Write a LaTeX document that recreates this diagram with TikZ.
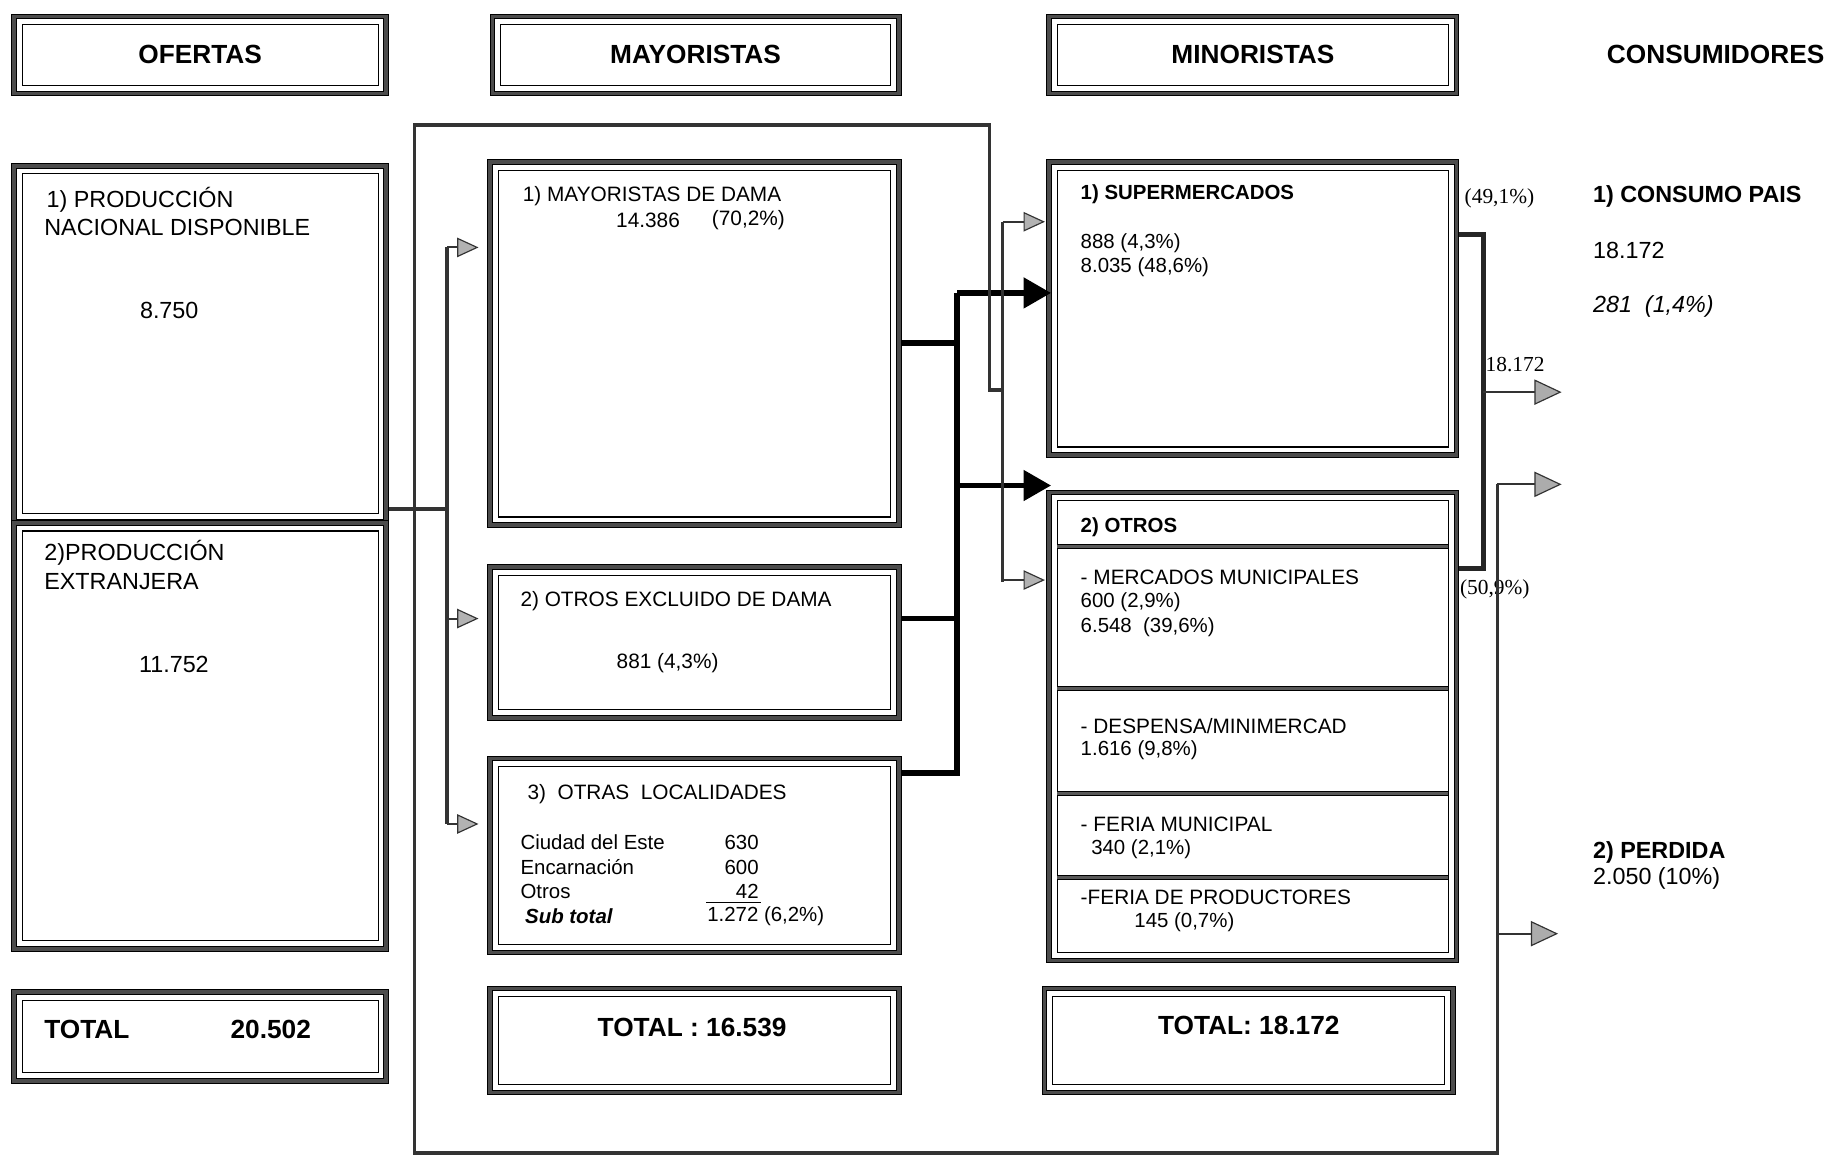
\documentclass[tikz,border=0pt]{standalone}
\usepackage{fontspec}
\setmainfont{Liberation Sans}
\newfontfamily\serifF{Liberation Serif}
\usetikzlibrary{arrows.meta,fit,calc}
\newcommand\fhead{\fontsize{13.5}{16}\selectfont\bfseries}
\newcommand\fbig{\fontsize{12}{14}\selectfont}
\newcommand\fmid{\fontsize{10.7}{13}\selectfont}
\newcommand\fmidb{\fontsize{10.5}{13}\selectfont\bfseries}
\newcommand\fsub{\fontsize{10.5}{12.6}\selectfont}
\newcommand\fcons{\fontsize{12}{14}\selectfont\bfseries}
\newcommand\flab{\serifF\fontsize{11}{13}\selectfont}
\newcommand\mkframe[5]{%
  \coordinate (#1-a) at (#2,#3);
  \coordinate (#1-b) at (#4,#5);
  \node[fit=(#1-a)(#1-b), inner sep=0pt, outer sep=0pt] (#1) {};
  \draw[frband] ([shift={(2,2)}]#1.north west) rectangle ([shift={(-2,-2)}]#1.south east);
  \draw[frline] (#1.north west) rectangle (#1.south east);
  \draw[frline] ([shift={(4,4)}]#1.north west) rectangle ([shift={(-4,-4)}]#1.south east);
  \draw[frinner] ([shift={(9,9)}]#1.north west) rectangle ([shift={(-9,-9)}]#1.south east);
}
\newcommand\mksep[1]{%
  \draw[line width=1.6pt, draw=black!65] (906,#1) -- (1241,#1);
  \draw[frline] (906,{#1-1.8}) -- (1241,{#1-1.8});
  \draw[frline] (906,{#1+1.8}) -- (1241,{#1+1.8});
}
\begin{document}
\begin{tikzpicture}[x=0.6pt,y=-0.6pt,
  frband/.style={line width=2.4pt, draw=black!70},
  frline/.style={line width=0.5pt, draw=black},
  frinner/.style={line width=0.6pt, draw=black},
  txt/.style={inner sep=0pt, outer sep=0pt},
  lt/.style={txt, anchor=west},
  rt/.style={txt, anchor=east},
  conn/.style={line width=1.8pt, draw=black!80},
  sconn/.style={line width=1pt, draw=black!80},
  bconn/.style={line width=3pt, draw=black},
  rconn/.style={line width=2.4pt, draw=black!85},
  sarr/.style={-{Triangle[length=11pt,width=10pt,fill=gray!60,line width=0.6pt]}},
  barr/.style={-{Triangle[length=14pt,width=16pt,fill=black,line width=0.6pt]}},
  marr/.style={-{Triangle[length=14pt,width=13pt,fill=gray!65,line width=0.6pt]}},
]
\fill[white] (0,0) rectangle (1568,992);
\useasboundingbox (0,0) rectangle (1568,992);

% ---- headers
\mkframe{hO}{10}{12}{333}{82}
\mkframe{hM}{420}{12}{772}{82}
\mkframe{hN}{897}{12}{1250}{82}
\node[txt,font=\fhead] (tO) at (hO) {OFERTAS};
\node[txt,font=\fhead] (tM) at (hM) {MAYORISTAS};
\node[txt,font=\fhead] (tN) at (hN) {MINORISTAS};
\node[txt,font=\fhead] (tC) at (1470,47) {CONSUMIDORES};

% ---- ofertas
\mkframe{oA}{10}{140}{333}{449}
\mkframe{oB}{10}{446}{333}{815}
\node[lt,font=\fbig] (oA1) at (40,171) {1) PRODUCCIÓN};
\node[lt,font=\fbig] (oA2) at (38,195) {NACIONAL DISPONIBLE};
\node[txt,font=\fbig] (oA3) at (145,266) {8.750};
\node[lt,font=\fbig] (oB1) at (38,474) {2)PRODUCCIÓN};
\node[lt,font=\fbig] (oB2) at (38,498) {EXTRANJERA};
\node[txt,font=\fbig] (oB3) at (149,569) {11.752};
\mkframe{oT}{10}{848}{333}{928}
\node[lt,font=\fhead] (oT1) at (38,882) {TOTAL};
\node[txt,font=\fhead] (oT2) at (232,882) {20.502};

% ---- mayoristas
\mkframe{mA}{418}{137}{772}{452}
\node[lt,font=\fmid] (mA1) at (448,168) {1) MAYORISTAS DE DAMA};
\node[lt,font=\fmid] (mA2) at (528,189) {14.386};
\node[lt,font=\fmid] (mA3) at (610,189) {(70,2\%)};
\mkframe{mB}{418}{484}{772}{617}
\node[lt,font=\fmid] (mB1) at (446,515) {2) OTROS EXCLUIDO DE DAMA};
\node[txt,font=\fmid] (mB2) at (572,568) {881 (4,3\%)};
\mkframe{mC}{418}{648}{772}{818}
\node[lt,font=\fmid] (mC1) at (452,680) {3)\ \ OTRAS\ \ LOCALIDADES};
\node[lt,font=\fsub] (mC2) at (446,722) {Ciudad del Este};
\node[rt,font=\fsub] (mC3) at (650,722) {630};
\node[lt,font=\fsub] (mC4) at (446,743) {Encarnación};
\node[rt,font=\fsub] (mC5) at (650,743) {600};
\node[lt,font=\fsub] (mC6) at (446,764) {Otros};
\node[rt,font=\fsub] (mC7) at (650,764) {42};
\draw[line width=0.6pt] (605,773) -- (652,773);
\node[lt,font=\fsub\bfseries\itshape] (mC8) at (450,785) {Sub total};
\node[lt,font=\fsub] (mC9) at (606,785) {1.272 (6,2\%)};
\mkframe{mT}{418}{845}{772}{938}
\node[txt,font=\fhead] (mT1) at (593,880) {TOTAL : 16.539};

% ---- minoristas
\mkframe{nA}{897}{137}{1250}{392}
\node[lt,font=\fmidb] (nA1) at (926,166) {1) SUPERMERCADOS};
\node[lt,font=\fsub] (nA2) at (926,208) {888 (4,3\%)};
\node[lt,font=\fsub] (nA3) at (926,229) {8.035 (48,6\%)};
\mkframe{nB}{897}{420}{1250}{825}
\mksep{468}
\mksep{590}
\mksep{680}
\mksep{752}
\node[lt,font=\fmidb] (nB1) at (926,452) {2) OTROS};
\node[lt,font=\fmid] (nB2) at (926,495) {- MERCADOS MUNICIPALES};
\node[lt,font=\fsub] (nB3) at (926,516) {600 (2,9\%)};
\node[lt,font=\fsub] (nB4) at (926,537) {6.548\ \ (39,6\%)};
\node[lt,font=\fmid] (nB5) at (926,622) {- DESPENSA/MINIMERCAD};
\node[lt,font=\fsub] (nB6) at (926,643) {1.616 (9,8\%)};
\node[lt,font=\fmid] (nB7) at (926,706) {- FERIA MUNICIPAL};
\node[lt,font=\fsub] (nB8) at (935,728) {340 (2,1\%)};
\node[lt,font=\fmid] (nB9) at (926,769) {-FERIA DE PRODUCTORES};
\node[lt,font=\fsub] (nB10) at (972,790) {145 (0,7\%)};
\mkframe{nT}{893}{845}{1247}{938}
\node[txt,font=\fhead] (nT1) at (1070,879) {TOTAL: 18.172};

% ---- consumidores
\node[lt,font=\fcons] (c1) at (1365,168) {1) CONSUMO PAIS};
\node[lt,font=\fbig] (c2) at (1365,215) {18.172};
\node[lt,font=\fbig\itshape] (c3) at (1365,263) {281\ \ (1,4\%)};
\node[lt,font=\fcons] (c4) at (1365,730) {2) PERDIDA};
\node[lt,font=\fbig] (c5) at (1365,753) {2.050 (10\%)};

% ---- labels on right connector
\node[lt,font=\flab] (l1) at (1255,170) {(49,1\%)};
\node[lt,font=\flab] (l2) at (1273,312) {18.172};
\node[lt,font=\flab] (l3) at (1251,505) {(50,9\%)};

% ---- ofertas -> mayoristas
\coordinate (dj) at (383,436);
\coordinate (dt) at (383,212);
\coordinate (dm) at (383,530);
\coordinate (db) at (383,706);
\draw[conn] (oA.east |- dj) -- (dj);
\draw[conn] (dt) -- (db);
\draw[sconn,sarr,shorten >=4.8pt] (dt) -- (dt -| mA.west);
\draw[sconn,sarr,shorten >=4.8pt] (dm) -- (dm -| mB.west);
\draw[sconn,sarr,shorten >=4.8pt] (db) -- (db -| mC.west);

% ---- mayoristas -> minoristas
\coordinate (k1) at (820,294);
\coordinate (k2) at (820,530);
\coordinate (k3) at (820,662);
\coordinate (kt) at (820,251);
\coordinate (kb) at (820,416);
\draw[bconn] (mA.east |- k1) -- (k1);
\draw[bconn] (mB.east |- k2) -- (k2);
\draw[bconn] (mC.east |- k3) -- (k3) -- (kt);
\draw[bconn,barr,shorten >=-2pt] (kt) -- (kt -| nA.west);
\draw[bconn,barr,shorten >=-2pt] (kb) -- (kb -| nB.west);

% ---- ofertas direct loop
\coordinate (g0) at (355,436);
\coordinate (g1) at (355,107);
\coordinate (g2) at (848,107);
\coordinate (g3) at (848,334);
\coordinate (g4) at (859,334);
\coordinate (g5) at (355,988);
\coordinate (g6) at (1283,988);
\coordinate (g7) at (1283,415);
\coordinate (s1) at (859,190);
\coordinate (s2) at (859,499);
\coordinate (s3) at (859,497);
\coordinate (q1) at (1338,415);
\coordinate (q2) at (1283,800);
\coordinate (q3) at (1335,800);
\draw[conn] (g0) -- (g1) -- (g2) -- (g3) -- (g4);
\draw[conn] (g0) -- (g5) -- (g6) -- (g7);
\draw[conn] (s1) -- (s2);
\draw[sconn,sarr,shorten >=1pt] (s1) -- (s1 -| nA.west);
\draw[sconn,sarr,shorten >=1pt] (s3) -- (s3 -| nB.west);
\draw[sconn,marr] (g7) -- (q1);
\draw[sconn,marr] (q2) -- (q3);

% ---- minoristas -> consumidores
\coordinate (p1) at (1271,201);
\coordinate (p2) at (1271,487);
\coordinate (p3) at (1271,336);
\coordinate (p4) at (1338,336);
\draw[rconn] (nA.east |- p1) -- (p1) -- (p2) -- (nB.east |- p2);
\draw[sconn,marr] (p3) -- (p4);
\end{tikzpicture}
\end{document}
